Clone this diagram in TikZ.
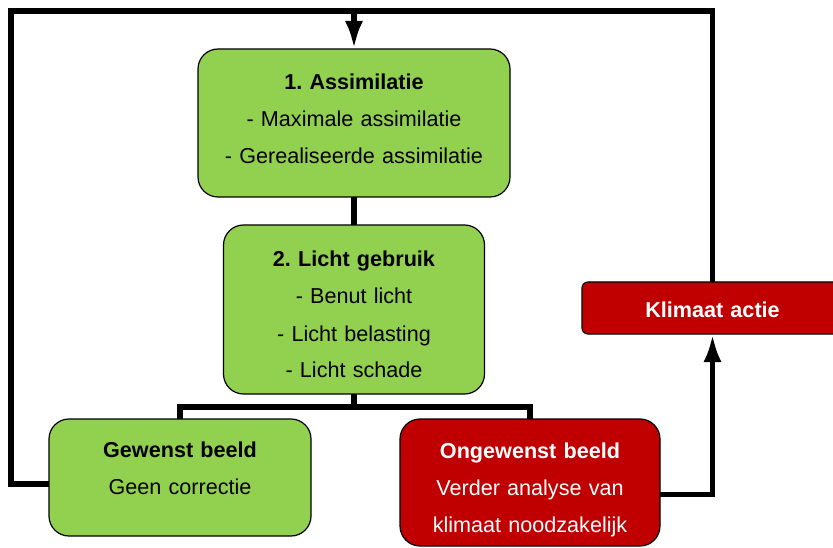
\documentclass[tikz,border=0pt]{standalone}
\usepackage{fontspec}
\setmainfont{Liberation Sans}
\usepackage{xcolor}
\usetikzlibrary{positioning, arrows.meta}
\frenchspacing

\definecolor{okgreen}{HTML}{92D050}
\definecolor{alarmred}{HTML}{C00000}

\tikzset{
  stage/.style={draw, line width=1.2pt, rounded corners=20pt, fill=okgreen,
    inner sep=0pt, outer sep=0pt, align=center, font=\fontsize{21.6}{37}\selectfont},
  alarm/.style={stage, fill=alarmred, text=white},
  wire/.style={line width=5.5pt},
  flowarrow/.style={-{Latex[length=28pt,width=18pt]}}
}

\begin{document}
\begin{tikzpicture}[x=1pt, y=-1pt]
  \useasboundingbox (0,0) rectangle (833,548);

  \node (assim) [stage, anchor=north west, text width=312pt, text height=41pt, text depth=107pt] at (198,49) {
    \textbf{1. Assimilatie}\\
    - Maximale assimilatie\\
    - Gerealiseerde assimilatie
  };

  \node (licht) [stage, below=28pt of assim, text width=261pt, text height=42pt, text depth=127pt] {
    \textbf{2. Licht gebruik}\\
    - Benut licht\\
    - Licht belasting\\
    - Licht schade
  };

  \node (gewenst) [stage, anchor=north west, text width=262pt, text height=38pt, text depth=79pt] at (49,419) {
    \textbf{Gewenst beeld}\\
    Geen correctie
  };

  \node (ongewenst) [alarm, anchor=north west, text width=260pt, text height=39pt, text depth=88pt] at (400,419) {
    \textbf{Ongewenst beeld}\\
    Verder analyse van\\
    klimaat noodzakelijk
  };

  \node (klimaat) [alarm, rounded corners=6pt, anchor=north west, text width=261pt, text height=35pt, text depth=17pt] at (582,282) {
    \textbf{Klimaat actie}
  };

  % terugkoppeling
  \coordinate (corner) at (11,11);
  \draw [wire] (klimaat.north) |- (corner) |- ([yshift=-6.5pt]gewenst.west);
  \draw [wire, flowarrow] (assim.north |- corner) -- (assim.north);
  \draw [wire, flowarrow] ([yshift=-12pt]ongewenst.east) -| (klimaat.south);

  % boom
  \path (licht.south) ++(0,13) coordinate (split);
  \draw [wire] (assim) -- (licht);
  \draw [wire] (licht) -- (split);
  \draw [wire] (gewenst.north) |- (split) -| (ongewenst.north);
\end{tikzpicture}
\end{document}
